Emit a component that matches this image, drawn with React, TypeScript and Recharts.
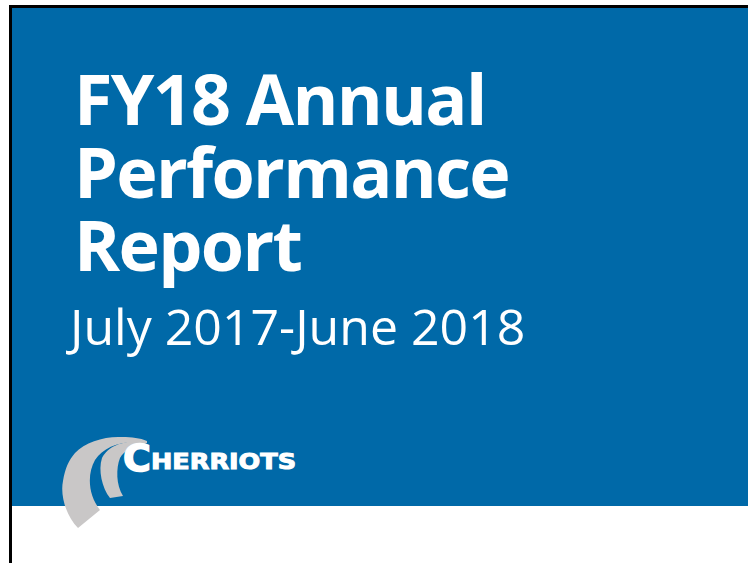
import React from "react";
import { ComposedChart, XAxis, YAxis, Customized } from "recharts";

const titleLines = ["FY18 Annual", "Performance", "Report"];
const subtitle = "July 2017-June 2018";
const brandInitial = "C";
const brandRest = "HERRIOTS";

const W = 748;
const H = 563;
const BLUE = "#0069A8";
const GRAY = "#C9C7C7";

const Cover = () => (
  <g>
    <rect x={12} y={8} width={W - 12} height={498} fill={BLUE} />
    <rect x={9} y={5} width={3} height={H - 5} fill="#000" />
    <rect x={9} y={5} width={W - 9} height={3} fill="#000" />
    {titleLines.map((t, i) => (
      <text
        key={t}
        x={74}
        y={125 + i * 73}
        fill="#fff"
        fontFamily="'Open Sans'"
        fontWeight={700}
        fontSize={70}
        letterSpacing={-1.7}
      >
        {t}
      </text>
    ))}
    <text x={70} y={345} fill="#fff" fontFamily="'Open Sans'" fontWeight={400} fontSize={50}>
      {subtitle}
    </text>
    <path
      d="M 75 453 C 85 442, 105 436, 122 437 C 132 437, 140 438, 147 441 L 140 442 C 118 441, 103 448, 95 460 C 87 474, 88 495, 100 510 L 78 528 C 66 516, 60 495, 63 481 C 65 468, 69 460, 75 453 Z"
      fill={GRAY}
    />
    <path
      d="M 110 498 C 102 488, 98 470, 102 458 C 108 446, 122 440, 147 441 L 147 443 C 135 446, 124 450, 120 458 C 116 468, 116 485, 123 496 Z"
      fill={GRAY}
    />
    <text
      x={123}
      y={471}
      fill="#fff"
      stroke="#fff"
      strokeWidth={1.5}
      fontFamily="'DejaVu Sans'"
      fontWeight={700}
      fontSize={38}
    >
      {brandInitial}
    </text>
    <text
      x={151}
      y={469}
      fill="#fff"
      stroke="#fff"
      strokeWidth={1}
      fontFamily="'DejaVu Sans'"
      fontWeight={700}
      fontSize={22}
      textLength={145}
      lengthAdjust="spacingAndGlyphs"
    >
      {brandRest}
    </text>
  </g>
);

export default function App() {
  return (
    <div style={{ position: "absolute", left: 0, top: 0, width: W, height: H, background: "#fff" }}>
      <ComposedChart width={W} height={H} margin={{ top: 0, right: 0, bottom: 0, left: 0 }} data={[]}>
        <XAxis type="number" dataKey="x" domain={[0, W]} hide />
        <YAxis type="number" dataKey="y" domain={[0, H]} reversed hide />
        <Customized component={Cover} />
      </ComposedChart>
    </div>
  );
}
